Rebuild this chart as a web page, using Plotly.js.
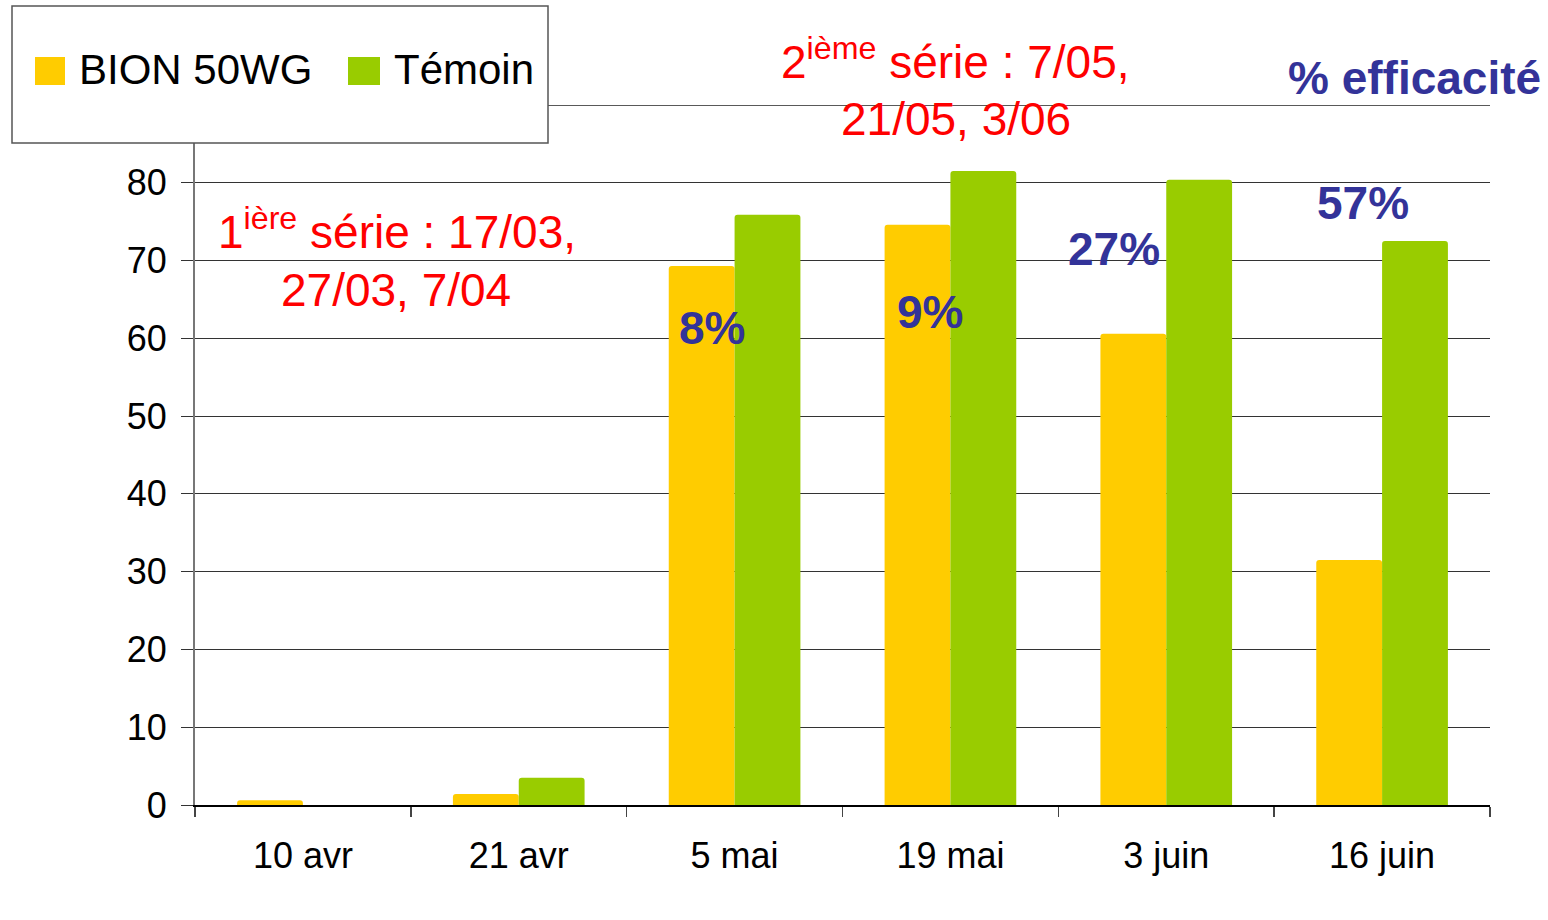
<!DOCTYPE html>
<html>
<head>
<meta charset="utf-8">
<script src="https://cdn.plot.ly/plotly-3.0.1.min.js"></script>
<style>html,body{margin:0;padding:0;background:#fff;}#chart{width:1548px;height:920px;}</style>
</head>
<body>
<div id="chart"></div>
<script>
// ---- data ----
var categories = ["10 avr", "21 avr", "5 mai", "19 mai", "3 juin", "16 juin"];
var seriesNames = ["BION 50WG", "Témoin"];
var bionValues = [0.6, 1.4, 69.3, 74.6, 60.6, 31.5];
var temoinValues = [0, 3.5, 75.9, 81.5, 80.4, 72.5];
var efficacyLabels = ["8%", "9%", "27%", "57%"];
var efficacyTitle = "% efficacité";
var serie1Lines = ["1<sup>ière</sup> série : 17/03,", "27/03, 7/04"];
var serie2Lines = ["2<sup>ième</sup> série : 7/05,", "21/05, 3/06"];
var yTickVals = [0, 10, 20, 30, 40, 50, 60, 70, 80];
var yMax = 90;

// ---- style ----
var colors = ["#FFCC00", "#99CC00"];
var FONT = "Liberation Sans, Arial, sans-serif";
var W = 1548, H = 920;
var M = {l: 195, r: 58, t: 105, b: 115};
function px(x) { return (x - M.l) / (W - M.l - M.r); }
function py(y) { return (H - M.b - y) / (H - M.t - M.b); }

var traces = [
  {type: "bar", name: seriesNames[0], x: categories, y: bionValues,
   marker: {color: colors[0], line: {width: 0}}, showlegend: false, hoverinfo: "x+y"},
  {type: "bar", name: seriesNames[1], x: categories, y: temoinValues,
   marker: {color: colors[1], line: {width: 0}}, showlegend: false, hoverinfo: "x+y"}
];

var effPos = [[712, 328], [930, 312], [1114, 249], [1363, 203]];
var annotations = [];
efficacyLabels.forEach(function (t, i) {
  annotations.push({xref: "paper", yref: "paper", x: px(effPos[i][0]), y: py(effPos[i][1]),
    text: t, showarrow: false, xanchor: "center", yanchor: "middle",
    font: {family: FONT, size: 46, color: "#333399", weight: "bold"}});
});
annotations.push({xref: "paper", yref: "paper", x: px(1414), y: py(78), text: efficacyTitle,
  showarrow: false, xanchor: "center", yanchor: "middle",
  font: {family: FONT, size: 46, color: "#333399", weight: "bold"}});

var red1 = [[397, 229], [396, 290]];
var red2 = [[955, 59], [956, 119]];
serie1Lines.forEach(function (t, i) {
  annotations.push({xref: "paper", yref: "paper", x: px(red1[i][0]), y: py(red1[i][1]), text: t,
    showarrow: false, xanchor: "center", yanchor: "middle", font: {family: FONT, size: 46, color: "#FF0000"}});
});
serie2Lines.forEach(function (t, i) {
  annotations.push({xref: "paper", yref: "paper", x: px(red2[i][0]), y: py(red2[i][1]), text: t,
    showarrow: false, xanchor: "center", yanchor: "middle", font: {family: FONT, size: 46, color: "#FF0000"}});
});

// manual legend
var legTextX = [77, 392];
var legSym = [[35, 65], [348, 380]];
seriesNames.forEach(function (n, i) {
  annotations.push({xref: "paper", yref: "paper", x: px(legTextX[i]), y: py(70), text: n,
    showarrow: false, xanchor: "left", yanchor: "middle", font: {family: FONT, size: 42, color: "#000"}});
});
var shapes = [
  // top gridline (the 90 level), partly hidden by the legend box
  {type: "line", xref: "paper", yref: "y", x0: 0, x1: 1, y0: yMax, y1: yMax,
   line: {color: "#222", width: 1.3}, layer: "below"},
  {type: "rect", xref: "paper", yref: "paper", x0: px(12), x1: px(548), y0: py(143), y1: py(6),
   fillcolor: "#ffffff", line: {color: "#555", width: 1.5}, layer: "above"}
];
seriesNames.forEach(function (n, i) {
  shapes.push({type: "rect", xref: "paper", yref: "paper", x0: px(legSym[i][0]), x1: px(legSym[i][1]),
    y0: py(85), y1: py(57), fillcolor: colors[i], line: {width: 0}, layer: "above"});
});

var layout = {
  width: W, height: H,
  margin: M,
  paper_bgcolor: "#fff", plot_bgcolor: "#fff",
  barmode: "group", bargap: 0.39, bargroupgap: 0, barcornerradius: 3,
  showlegend: false,
  font: {family: FONT, color: "#000"},
  xaxis: {type: "category", tickson: "boundaries", ticks: "outside", ticklen: 10, tickcolor: "#444", tickwidth: 1.5,
    showline: true, linecolor: "#000", linewidth: 1.5, showgrid: false,
    tickfont: {family: FONT, size: 36, color: "#000"}, ticklabelstandoff: 18},
  yaxis: {range: [0, yMax], tickvals: yTickVals, ticks: "outside", ticklen: 12, tickcolor: "#333", tickwidth: 1,
    showline: true, linecolor: "#777", linewidth: 2, showgrid: true, gridcolor: "#333", gridwidth: 1,
    zeroline: false, tickfont: {family: FONT, size: 36, color: "#000"}, ticklabelstandoff: 7},
  annotations: annotations,
  shapes: shapes
};

Plotly.newPlot("chart", traces, layout, {displayModeBar: false, staticPlot: true});
</script>
</body>
</html>
